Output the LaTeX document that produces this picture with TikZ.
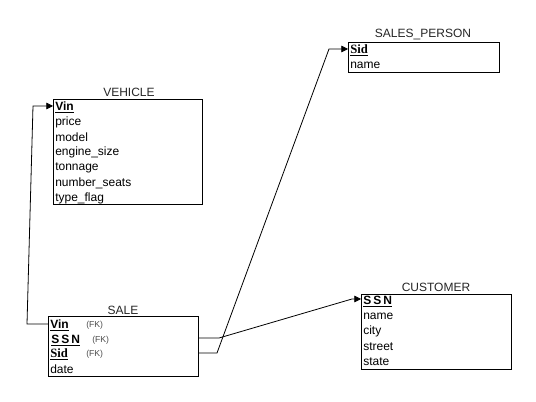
\documentclass[tikz,border=0pt]{standalone}
\usepackage{fontspec}
\setmainfont{Liberation Sans}
\newfontfamily\keyserif{Liberation Serif}
\usetikzlibrary{arrows.meta}
\begin{document}
\begin{tikzpicture}[x=0.75pt,y=-0.75pt,
  entity/.style={draw=black,line width=0.8pt,anchor=north west,inner sep=0pt},
  ttl/.style={font=\fontsize{9}{10}\selectfont,text=black!85,inner sep=0pt},
  row/.style={font=\fontsize{9}{10}\selectfont,anchor=west,inner sep=0pt,yshift=-1pt},
  fk/.style={font=\fontsize{6.5}{7}\selectfont,text=black!70,anchor=west,inner sep=0pt,yshift=-1pt},
  conn/.style={draw=black,line width=0.6pt},
  tip/.style={-{Triangle[length=5pt,width=5pt]}}]
\useasboundingbox (0,0) rectangle (536,402);
\fill[white] (0,0) rectangle (536,402);
% VEHICLE
\node[entity,minimum width=111.75pt,minimum height=78.75pt] (veh) at (53,99) {};
\node[ttl] (vehT) at (129,92) {VEHICLE};
\node[row] (vVin) at (55,106) {\textbf{\underline{Vin}}};
\node[row] (vPrice) at (55,121) {price};
\node[row] (vModel) at (55,136) {model};
\node[row] (vEng) at (55,151) {engine\_size};
\node[row] (vTon) at (55,167) {tonnage};
\node[row] (vNum) at (55,182) {number\_seats};
\node[row] (vType) at (55,197) {type\_flag};
% SALES_PERSON
\node[entity,minimum width=113.25pt,minimum height=22.5pt] (sp) at (348,42) {};
\node[ttl] (spT) at (423,35) {SALES\_PERSON};
\node[row] (spSid) at (350,49) {\keyserif\fontsize{9.5}{10}\selectfont\textbf{\underline{Sid}}};
\node[row] (spName) at (350,64) {name};
% CUSTOMER
\node[entity,minimum width=112.5pt,minimum height=56.25pt] (cu) at (361,294) {};
\node[ttl] (cuT) at (436,287) {CUSTOMER};
\node[row] (cSSN) at (363,300) {\textbf{\underline{S\,S\,N}}};
\node[row] (cName) at (363,315) {name};
\node[row] (cCity) at (363,330) {city};
\node[row] (cStreet) at (363,345) {street};
\node[row] (cState) at (363,360) {state};
% SALE
\node[entity,minimum width=112.5pt,minimum height=45pt] (sa) at (48,316) {};
\node[ttl] (saT) at (123,310) {SALE};
\node[row] (sVin) at (50,324) {\textbf{\underline{Vin}}};
\node[fk] at (86,324) {(FK)};
\node[row] (sSSN) at (51,339) {\textbf{\underline{S\,S\,N}}};
\node[fk] at (92,339) {(FK)};
\node[row] (sSid) at (50,353) {\keyserif\fontsize{9.5}{10}\selectfont\textbf{\underline{Sid}}};
\node[fk] at (86,353) {(FK)};
\node[row] (sDate) at (50,368) {date};
% connector end points on the box borders
\coordinate (saVinL) at (48,324);
\coordinate (saSSNR) at (198,338);
\coordinate (saSidR) at (198,353);
\coordinate (vehVinL) at (53,106);
\coordinate (spSidL) at (348,49);
\coordinate (cuSSNL) at (361,299);
% connectors
\draw[conn,tip] (saVinL) -- (27,324) -- (33,106) -- (vehVinL);
\draw[conn,tip] (saSidR) -- (217,353) -- (329,49) -- (spSidL);
\draw[conn,tip] (saSSNR) -- (219,338) -- (352,299) -- (cuSSNL);
\end{tikzpicture}
\end{document}
